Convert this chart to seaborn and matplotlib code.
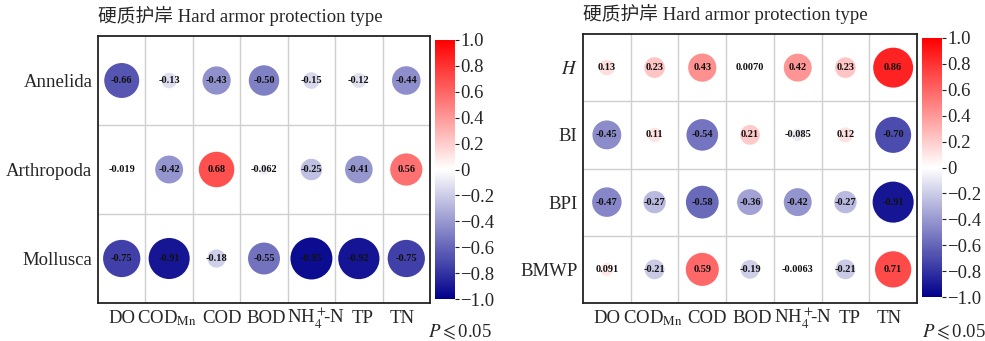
import numpy as np
import pandas as pd
import matplotlib
matplotlib.use("Agg")
import matplotlib.pyplot as plt
import seaborn as sns
from matplotlib.colors import LinearSegmentedColormap, Normalize
from matplotlib.cm import ScalarMappable
from matplotlib.transforms import ScaledTranslation, blended_transform_factory

# ---------------- data ----------------
env_labels = ["DO", r"COD$_{\mathrm{Mn}}$", "COD", "BOD", r"NH$_4^+\!\!$-N", "TP", "TN"]

left_rows = ["Annelida", "Arthropoda", "Mollusca"]
left_annelida = [-0.66, -0.13, -0.43, -0.50, -0.15, -0.12, -0.44]
left_arthropoda = [-0.019, -0.42, 0.68, -0.062, -0.25, -0.41, 0.56]
left_mollusca = [-0.75, -0.91, -0.18, -0.55, -0.95, -0.92, -0.75]

right_rows = [r"$H$", "BI", "BPI", "BMWP"]
right_h = [0.13, 0.23, 0.43, 0.0070, 0.42, 0.23, 0.86]
right_bi = [-0.45, 0.11, -0.54, 0.21, -0.085, 0.12, -0.70]
right_bpi = [-0.47, -0.27, -0.58, -0.36, -0.42, -0.27, -0.91]
right_bmwp = [0.091, -0.21, 0.59, -0.19, -0.0063, -0.21, 0.71]

title_text = "硬质护岸 Hard armor protection type"
cbar_ticks = [1.0, 0.8, 0.6, 0.4, 0.2, 0, -0.2, -0.4, -0.6, -0.8, -1.0]
cbar_ticklabels = ["1.0", "0.8", "0.6", "0.4", "0.2", "0", "\u22120.2", "\u22120.4",
                   "\u22120.6", "\u22120.8", "\u22121.0"]

# ---------------- style ----------------
sns.set_theme(style="white")
plt.rcParams["font.family"] = ["Liberation Serif", "Noto Sans CJK SC", "DejaVu Sans"]
plt.rcParams["mathtext.fontset"] = "stix"

cmap = LinearSegmentedColormap.from_list("bwr2", ["#00008B", "#FFFFFF", "#FF0000"])
norm = Normalize(-1, 1)

W, H = 985, 341
fig = plt.figure(figsize=(W / 100, H / 100), dpi=100)

# small horizontal nudges (pixels) of the x labels, as typeset in the original
label_nudge_px = [0, -2, 5, 2, 5, 4, -4]


def fx(px):
    return px / W


def fy(py):
    return 1 - py / H


def fmt(v):
    if abs(v) >= 0.1:
        return f"{v:.2f}"
    d = int(-np.floor(np.log10(abs(v)))) + 1
    return f"{v:.{d}f}"


def panel(ax_box, cb_box, rows, mat):
    ax = fig.add_axes(ax_box)
    nrow, ncol = len(rows), len(env_labels)
    recs = []
    for i in range(nrow):
        for j in range(ncol):
            v = mat[i][j]
            recs.append(dict(x=j, y=i, r=v, a=abs(v)))
    df = pd.DataFrame(recs)
    sns.scatterplot(data=df, x="x", y="y", hue="r", palette=cmap, hue_norm=norm,
                    size="a", sizes=(0, 960), size_norm=(0, 1), legend=False,
                    linewidth=0, ax=ax, zorder=3)
    for _, rr in df.iterrows():
        ax.text(rr["x"], rr["y"], fmt(rr["r"]), ha="center", va="center",
                fontsize=7.5, fontweight="bold", color="#111111", zorder=4)
    ax.set_xlim(-0.5, ncol - 0.5)
    ax.set_ylim(nrow - 0.5, -0.5)
    for k in range(1, ncol):
        ax.axvline(k - 0.5, color="#CFCFCF", lw=1.0, zorder=1)
    for k in range(1, nrow):
        ax.axhline(k - 0.5, color="#CFCFCF", lw=1.0, zorder=1)
    ax.set_xticks(range(ncol))
    ax.set_xticklabels([])
    blend = blended_transform_factory(ax.transData, ax.transAxes)
    for j, (lab, dx) in enumerate(zip(env_labels, label_nudge_px)):
        tr = blend + ScaledTranslation(dx / 100, -20 / 100, fig.dpi_scale_trans)
        ax.text(j, 0, lab, transform=tr, ha="center", va="baseline",
                fontsize=13.5, clip_on=False)
    ax.set_yticks(range(nrow))
    ax.set_yticklabels(rows, fontsize=13.5)
    ax.tick_params(axis="x", length=0)
    ax.tick_params(axis="y", length=0, pad=4)
    ax.set_xlabel("")
    ax.set_ylabel("")
    for s in ax.spines.values():
        s.set_visible(True)
        s.set_color("#222222")
        s.set_linewidth(1.3)
    ax.set_title(title_text, loc="left", fontsize=13.5, pad=10, x=0.0)

    cax = fig.add_axes(cb_box)
    sm = ScalarMappable(norm=norm, cmap=cmap)
    cb = fig.colorbar(sm, cax=cax)
    cb.outline.set_visible(False)
    cb.set_ticks(cbar_ticks)
    cb.set_ticklabels(cbar_ticklabels)
    cax.tick_params(labelsize=13.5, length=3, width=0.8, pad=1, color="#222222")
    return ax


# left panel
panel([fx(98), fy(303), fx(430) - fx(98), fy(36) - fy(303)],
      [fx(435), fy(299), fx(455) - fx(435), fy(40) - fy(299)],
      left_rows, [left_annelida, left_arthropoda, left_mollusca])

# right panel
panel([fx(583), fy(303), fx(917) - fx(583), fy(34) - fy(303)],
      [fx(922), fy(297), fx(942) - fx(922), fy(38) - fy(297)],
      right_rows, [right_h, right_bi, right_bpi, right_bmwp])

fig.text(fx(428), fy(337), r"$P\leqslant$0.05", fontsize=13.5, ha="left", va="baseline")
fig.text(fx(922), fy(337), r"$P\leqslant$0.05", fontsize=13.5, ha="left", va="baseline")

fig.savefig("out.png", dpi=100, facecolor="white")
